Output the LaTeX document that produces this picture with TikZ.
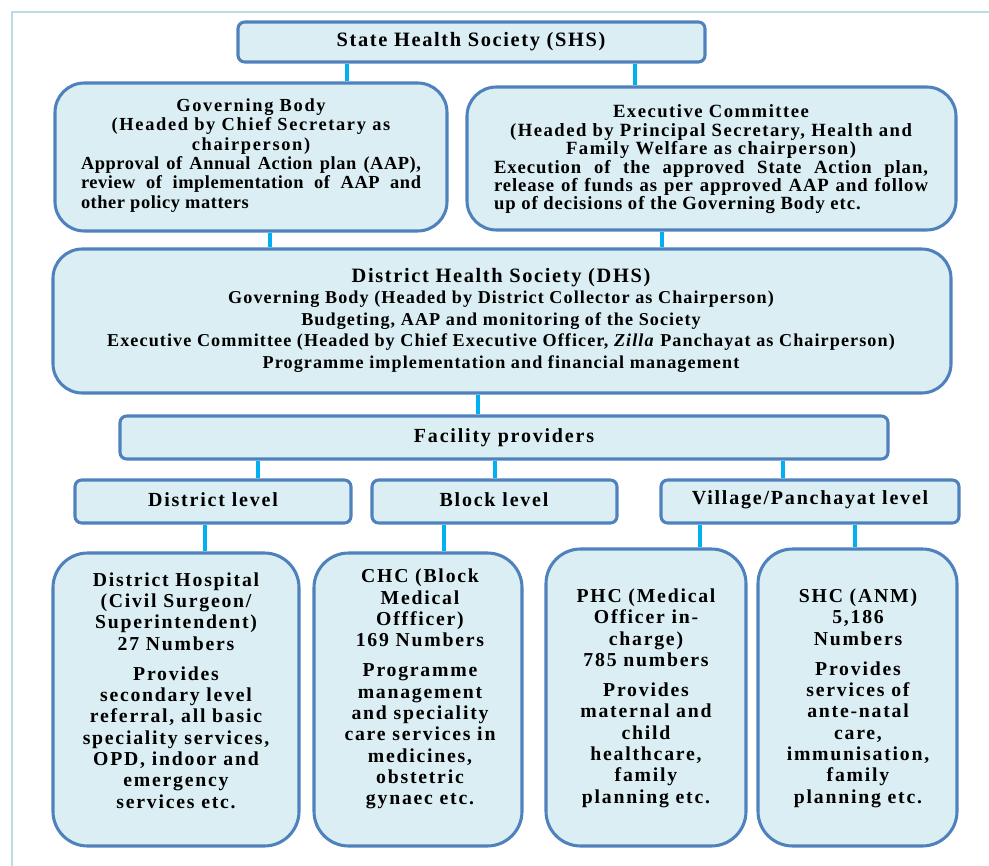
\documentclass[tikz,border=0pt]{standalone}
\usepackage{fontspec}
\setmainfont{Liberation Serif}
\usetikzlibrary{backgrounds}
\definecolor{boxfill}{HTML}{DAEEF3}
\definecolor{boxline}{HTML}{4F81BD}
\definecolor{conn}{HTML}{00B0F0}
\definecolor{framec}{HTML}{B7DDE8}
\newcommand{\fT}{\fontsize{15.3}{16}\selectfont\bfseries\addfontfeature{LetterSpace=8}}
\newcommand{\fG}{\fontsize{13.8}{14.5}\selectfont\bfseries\addfontfeature{LetterSpace=9}}
\newcommand{\fGp}{\fontsize{13.8}{14.5}\selectfont\bfseries\addfontfeature{LetterSpace=3}}
\newcommand{\fE}{\fontsize{14}{13.8}\selectfont\bfseries\addfontfeature{LetterSpace=8}}
\newcommand{\fEp}{\fontsize{14}{13.8}\selectfont\bfseries\addfontfeature{LetterSpace=5}}
\newcommand{\fD}{\fontsize{13.6}{16.1}\selectfont\bfseries\addfontfeature{LetterSpace=6}}
\newcommand{\fDt}{\fontsize{15.3}{16.1}\selectfont\bfseries\addfontfeature{LetterSpace=8}}
\newcommand{\fL}{\fontsize{15}{16}\selectfont\bfseries\addfontfeature{LetterSpace=9}}
\newcommand{\fB}{\fontsize{14.8}{16}\selectfont\bfseries\addfontfeature{LetterSpace=9}}
\begin{document}
\begin{tikzpicture}[x=0.75pt,y=-0.75pt,
  box/.style={draw=boxline, fill=boxfill, line width=2.3pt, rectangle, inner sep=0pt},
  bigbox/.style={box, rounded corners=22pt},
  tallbox/.style={box, rounded corners=26pt},
  smallbox/.style={box, rounded corners=5pt},
  conline/.style={draw=conn, line width=3pt},
  txt/.style={inner sep=0pt, text=black, align=center},
]
\useasboundingbox (0,0) rectangle (989,866);
\draw[framec, line width=1.5pt] (12,866) -- (12,12) -- (989,12);

% boxes
\node[smallbox, minimum width=467*0.75pt, minimum height=40*0.75pt] (shs) at (471.5,42) {};
\node[bigbox, minimum width=392*0.75pt, minimum height=148*0.75pt] (gb) at (251,157) {};
\node[bigbox, minimum width=489*0.75pt, minimum height=143*0.75pt] (ec) at (711.5,158.5) {};
\node[bigbox, minimum width=898*0.75pt, minimum height=144*0.75pt] (dhs) at (502,321) {};
\node[smallbox, minimum width=768*0.75pt, minimum height=43*0.75pt] (fac) at (504,437.5) {};
\node[smallbox, minimum width=276*0.75pt, minimum height=43*0.75pt] (dl) at (213,501.5) {};
\node[smallbox, minimum width=245*0.75pt, minimum height=43*0.75pt] (bl) at (494.5,501.5) {};
\node[smallbox, minimum width=298*0.75pt, minimum height=43*0.75pt] (vl) at (810,501.5) {};
\node[tallbox, minimum width=246*0.75pt, minimum height=293*0.75pt] (dh) at (176,699.5) {};
\node[tallbox, minimum width=208*0.75pt, minimum height=293*0.75pt] (chc) at (418,699.5) {};
\node[tallbox, minimum width=200*0.75pt, minimum height=297*0.75pt] (phc) at (646,697.5) {};
\node[tallbox, minimum width=199*0.75pt, minimum height=297*0.75pt] (shc) at (857.5,697.5) {};

% connectors
\begin{scope}[on background layer]
\draw[conline] (shs.south -| 347,0) -- (gb.north -| 347,0);
\draw[conline] (shs.south -| 635,0) -- (ec.north -| 635,0);
\draw[conline] (gb.south -| 270,0) -- (dhs.north -| 270,0);
\draw[conline] (ec.south -| 662,0) -- (dhs.north -| 662,0);
\draw[conline] (dhs.south -| 478,0) -- (fac.north -| 478,0);
\draw[conline] (fac.south -| 258,0) -- (dl.north -| 258,0);
\draw[conline] (fac.south -| 495,0) -- (bl.north -| 495,0);
\draw[conline] (fac.south -| 783,0) -- (vl.north -| 783,0);
\draw[conline] (dl.south -| 205,0) -- (dh.north -| 205,0);
\draw[conline] (bl.south -| 444,0) -- (chc.north -| 444,0);
\draw[conline] (vl.south -| 700,0) -- (phc.north -| 700,0);
\draw[conline] (vl.south -| 855,0) -- (shc.north -| 855,0);
\end{scope}

% texts
\node[txt, font=\fT] (shst) at (471,42) {State Health Society (SHS)};
\node[txt] (gbt) at (251,155.5) {\parbox{255pt}{{\fG\centering Governing Body\\(Headed by Chief Secretary as\\chairperson)\par}\fGp Approval of Annual Action plan (AAP),\linebreak review of implementation of AAP and\linebreak other policy matters}};
\node[txt] (ect) at (711,159.5) {\parbox{325.5pt}{{\fE\centering Executive Committee\\(Headed by Principal Secretary, Health and\\Family Welfare as chairperson)\par}\fEp Execution of the approved State Action plan,\linebreak release of funds as per approved AAP and follow\linebreak up of decisions of the Governing Body etc.}};
\node[txt, font=\fD] (dhst) at (501,320) {{\fDt District Health Society (DHS)}\\Governing Body (Headed by District Collector as Chairperson)\\Budgeting, AAP and monitoring of the Society\\Executive Committee (Headed by Chief Executive Officer, \textit{Zilla} Panchayat as Chairperson)\\Programme implementation and financial management};
\node[txt, font=\fL] (fact) at (504,438) {Facility providers};
\node[txt, font=\fL] (dlt) at (213,500) {District level};
\node[txt, font=\fL] (blt) at (494,500) {Block level};
\node[txt, font=\fL] (vlt) at (810,500) {Village/Panchayat level};
\node[txt, font=\fB] (dht) at (176,690.5) {District Hospital\\(Civil Surgeon/\\Superintendent)\\27 Numbers\\[6.5pt]Provides\\secondary level\\referral, all basic\\speciality services,\\OPD, indoor and\\emergency\\services etc.};
\node[txt, font=\fB] (chct) at (420,689) {CHC (Block\\Medical\\Offficer)\\169 Numbers\\[6.5pt]Programme\\management\\and speciality\\care services in\\medicines,\\obstetric\\gynaec etc.};
\node[txt, font=\fB] (phct) at (646,698) {PHC (Medical\\Officer in-\\charge)\\785 numbers\\[6.5pt]Provides\\maternal and\\child\\healthcare,\\family\\planning etc.};
\node[txt, font=\fB] (shct) at (858,698) {SHC (ANM)\\5,186\\Numbers\\[6.5pt]Provides\\services of\\ante-natal\\care,\\immunisation,\\family\\planning etc.};
\end{tikzpicture}
\end{document}
